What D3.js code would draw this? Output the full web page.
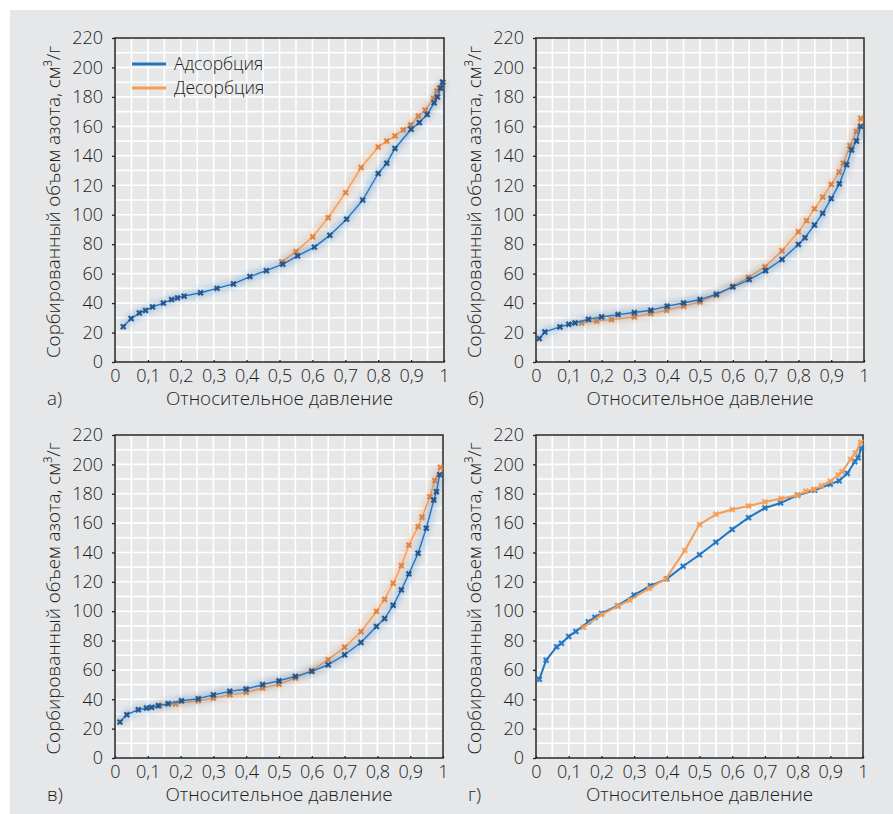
<!DOCTYPE html>
<html><head><meta charset="utf-8">
<script src="https://cdn.jsdelivr.net/npm/d3@7"></script>
<style>
html,body{margin:0;padding:0;background:#fff;}
svg text{font-family:"Open Sans","Noto Sans",sans-serif;font-weight:300;fill:#1c1c1c;}
</style></head>
<body>
<svg id="chart" width="893" height="814"></svg>
<script>
// ---------- DATA ----------
const xTicks = [0,0.1,0.2,0.3,0.4,0.5,0.6,0.7,0.8,0.9,1];
const yTicks = [0,20,40,60,80,100,120,140,160,180,200,220];
const seriesNames = ["Адсорбция","Десорбция"];
const panelLabels = ["а)","б)","в)","г)"];
const xTitle = "Относительное давление";
const yTitle = "Сорбированный объем азота, см³/г";

// panel а
const aAdsP = [0.025,0.049,0.074,0.093,0.114,0.147,0.172,0.19,0.21,0.26,0.31,0.36,0.41,0.46,0.51,0.555,0.606,0.653,0.704,0.753,0.80,0.826,0.851,0.90,0.925,0.949,0.97,0.98,0.99,0.996];
const aAdsV = [24,29.5,33.3,35,37.4,40,42.4,43.5,44.7,47,50,53,58,62,66.4,72,78,86,97,110,128,135,145,158,162.6,168,176,180,186,190];
const aDesP = [0.996,0.986,0.978,0.968,0.943,0.922,0.899,0.876,0.851,0.826,0.80,0.748,0.701,0.648,0.601,0.55,0.507];
const aDesV = [190,186,184,179,171,167,161,157.6,153.5,150,146,132,115,98,85,75,68];
// panel б
const bAdsP = [0.01,0.027,0.073,0.1,0.119,0.16,0.2,0.25,0.3,0.35,0.4,0.45,0.5,0.55,0.6,0.65,0.7,0.75,0.8,0.82,0.849,0.874,0.9,0.925,0.947,0.962,0.977,0.99];
const bAdsV = [15.9,20.4,23.8,25.6,26.5,29,30.6,32.2,33.6,35.1,37.9,40.1,42.4,46,51,56,62,69.6,79.8,84.4,93,101,111,121,134,144,150,160];
const bDesP = [0.99,0.977,0.957,0.937,0.924,0.9,0.874,0.849,0.825,0.8,0.75,0.698,0.647,0.6,0.55,0.5,0.45,0.398,0.35,0.3,0.23,0.185,0.139];
const bDesV = [165.5,156.5,147,135,129,120.6,112,104,96,88.4,75.5,64.6,57.4,51.5,45.4,40.8,37.9,35.1,32.9,30.6,28.8,27.9,26.5];
// panel в
const cAdsP = [0.015,0.036,0.071,0.096,0.112,0.132,0.162,0.203,0.254,0.3,0.35,0.4,0.45,0.5,0.55,0.6,0.65,0.7,0.75,0.797,0.822,0.848,0.873,0.896,0.924,0.949,0.972,0.98,0.99];
const cAdsV = [24.5,29.5,32.9,34,34.5,35.6,37,39,40.4,43,45.4,47,50,52.6,55.6,59,63.5,70.3,78.7,89.6,95,104,114.5,125.4,139.5,156.5,175.7,181.4,193];
const cDesP = [0.992,0.975,0.96,0.936,0.924,0.896,0.873,0.848,0.822,0.797,0.75,0.7,0.65,0.6,0.55,0.5,0.45,0.4,0.35,0.3,0.254,0.185,0.135];
const cDesV = [198,189,178,164,157.6,145,131,119,108,99.8,86,75.5,67,59.6,54.4,50.3,47.6,44.7,43,40.8,39,37,35.6];
// panel г
const dAdsP = [0.01,0.031,0.063,0.078,0.1,0.122,0.16,0.18,0.2,0.25,0.3,0.35,0.4,0.45,0.5,0.55,0.6,0.65,0.7,0.748,0.8,0.852,0.9,0.927,0.952,0.975,0.985,0.995];
const dAdsV = [53.6,66.6,75.7,78.2,82.8,86.2,92.8,95.8,98.5,103.7,111,117.4,122,130.6,138.4,147,155.7,163.7,170.3,173.7,179,182.4,186.5,188.8,193.8,201.8,204.5,211];
const dDesP = [0.993,0.977,0.962,0.936,0.924,0.9,0.873,0.85,0.825,0.8,0.75,0.7,0.65,0.6,0.55,0.5,0.455,0.397,0.346,0.287,0.25,0.2,0.145];
const dDesV = [215,208,203.4,195,192.7,188.5,185.4,183,181.7,179,176.7,174.4,171.7,169.2,166,159,141.4,122,115.5,107.6,103.3,97.6,89];

// ---------- LAYOUT / STYLE ----------
const adsColor = "#1f77c4", adsMark = "#1d4f86";
const desColor = "#f59d55", desMark = "#e0803a";
const panels = [
  {label:panelLabels[0], l:115,r:444,t:38,b:362, ads:[aAdsP,aAdsV], des:[aDesP,aDesV], legend:true, halo:true, titleX:53, labX:47},
  {label:panelLabels[1], l:536,r:864,t:38,b:362, ads:[bAdsP,bAdsV], des:[bDesP,bDesV], legend:false, halo:true, titleX:474, labX:468},
  {label:panelLabels[2], l:115,r:443,t:435,b:758, ads:[cAdsP,cAdsV], des:[cDesP,cDesV], legend:false, halo:true, titleX:53, labX:47},
  {label:panelLabels[3], l:536,r:863,t:435,b:758, ads:[dAdsP,dAdsV], des:[dDesP,dDesV], legend:false, halo:false, titleX:474, labX:468}
];

const svg = d3.select("#chart");
const defs = svg.append("defs");
defs.append("filter").attr("id","blur").attr("x","-20%").attr("y","-20%").attr("width","140%").attr("height","140%")
  .append("feGaussianBlur").attr("stdDeviation",2.5);

svg.append("rect").attr("x",10).attr("y",10).attr("width",883).attr("height",804).attr("fill","#e6e7e8");

const fmt = d => d===0 ? "0" : d===1 ? "1" : d3.format(".1f")(d).replace(".",",");
const markerPath = d3.symbol().type(d3.symbolCross).size(26)();

panels.forEach(p => {
  const x = d3.scaleLinear().domain([0,1]).range([p.l,p.r]);
  const y = d3.scaleLinear().domain([0,220]).range([p.b,p.t]);
  const g = svg.append("g");

  // grid
  const gx = d3.range(0,1.0001,0.05), gy = d3.range(0,221,10);
  g.selectAll(".gx").data(gx).join("line")
    .attr("x1",d=>x(d)).attr("x2",d=>x(d)).attr("y1",p.t).attr("y2",p.b)
    .attr("stroke","#fff").attr("stroke-width",1.6);
  g.selectAll(".gy").data(gy).join("line")
    .attr("y1",d=>y(d)).attr("y2",d=>y(d)).attr("x1",p.l).attr("x2",p.r)
    .attr("stroke","#fff").attr("stroke-width",1.6);

  // axes
  const xa = g.append("g").attr("transform",`translate(0,${p.b})`)
    .call(d3.axisBottom(x).tickValues(xTicks).tickFormat(fmt).tickSize(-2).tickPadding(7));
  const ya = g.append("g").attr("transform",`translate(${p.l},0)`)
    .call(d3.axisLeft(y).tickValues(yTicks).tickSize(3).tickPadding(9));
  [xa,ya].forEach(a=>{
    a.select(".domain").remove();
    a.selectAll("line").attr("stroke","#222").attr("stroke-width",1.3);
    a.selectAll("text").attr("font-size",18).attr("fill","#1c1c1c")
      .style("font-family",'"Open Sans","Noto Sans",sans-serif').style("font-weight",300);
  });
  xa.selectAll("text").attr("dy","0.71em");
  // frame
  g.append("rect").attr("x",p.l).attr("y",p.t).attr("width",p.r-p.l).attr("height",p.b-p.t)
    .attr("fill","none").attr("stroke","#222").attr("stroke-width",1.5);

  // series
  const mk = arr => arr[0].map((v,i)=>({p:v,v:arr[1][i]}));
  const line = d3.line().x(d=>x(d.p)).y(d=>y(d.v));
  const sets = [{d:mk(p.des),c:desColor,m:desMark},{d:mk(p.ads),c:adsColor,m:adsMark}];
  if (!p.halo) sets.reverse();
  sets.forEach(s=>{
    if (p.halo) {
      g.append("path").attr("d",line(s.d)).attr("fill","none")
        .attr("stroke",s.c).attr("stroke-opacity",0.22).attr("stroke-width",9)
        .attr("stroke-linejoin","round").attr("filter","url(#blur)");
    }
    g.append("path").attr("d",line(s.d)).attr("fill","none")
      .attr("stroke",s.c).attr("stroke-width",p.halo?1.4:2).attr("stroke-linejoin","round");
    g.selectAll(null).data(s.d).join("path")
      .attr("d",markerPath)
      .attr("transform",d=>`translate(${x(d.p)},${y(d.v)}) rotate(45)`)
      .attr("fill",p.halo?s.m:s.c).attr("opacity",0.9);
  });

  // titles
  g.append("text").attr("x",(p.l+p.r)/2).attr("y",p.b+43).attr("text-anchor","middle")
    .attr("font-size",18.8).text(xTitle);
  g.append("text").attr("transform",`translate(${p.titleX},${(p.t+p.b)/2+2}) rotate(-90)`)
    .attr("text-anchor","middle").attr("dy","0.35em").attr("font-size",18.8).text(yTitle);
  g.append("text").attr("x",p.labX).attr("y",p.b+43).attr("font-size",18.8).text(p.label);

  if (p.legend) {
    const lg = g.append("g");
    [[seriesNames[0],adsColor,64],[seriesNames[1],desColor,88]].forEach(([n,c,yy])=>{
      lg.append("line").attr("x1",132).attr("x2",166).attr("y1",yy).attr("y2",yy)
        .attr("stroke",c).attr("stroke-width",3);
      lg.append("text").attr("x",174).attr("y",yy).attr("dy","0.35em").attr("font-size",17.5).text(n);
    });
  }
});
</script>
</body></html>
